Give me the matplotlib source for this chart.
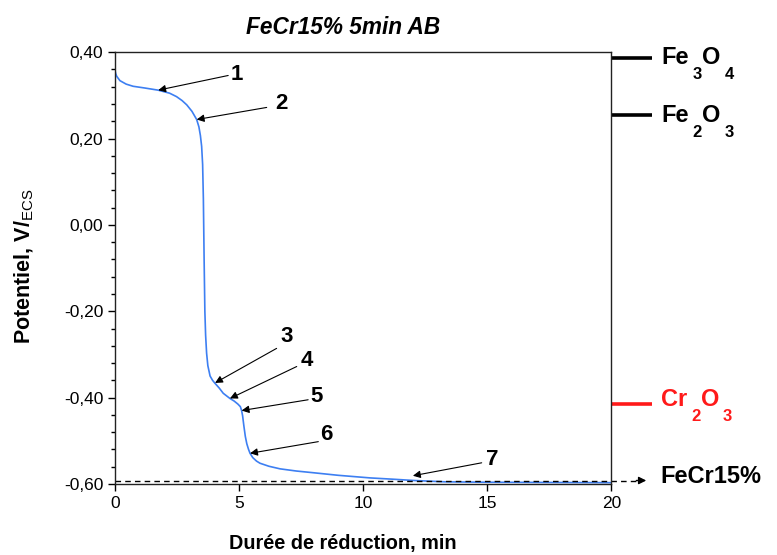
import numpy as np
import matplotlib.pyplot as plt
from matplotlib.ticker import MultipleLocator, FuncFormatter

plt.rcParams["font.family"] = ["Liberation Sans", "DejaVu Sans"]
plt.rcParams["mathtext.fontset"] = "custom"
plt.rcParams["mathtext.rm"] = "Liberation Sans"
plt.rcParams["mathtext.bf"] = "Liberation Sans:bold"

# reduction curve (time in min, potential in V/ECS)
t = [0.0, 0.03, 0.07, 0.2, 0.45, 0.73, 1.2, 1.74, 2.2, 2.48, 2.7, 2.89,
     3.1, 3.29, 3.38, 3.44, 3.49, 3.53, 3.56, 3.59, 3.62, 3.65, 3.69, 3.74,
     3.83, 3.93, 4.03, 4.2, 4.36, 4.63, 4.80, 4.95, 5.05, 5.10, 5.14, 5.19,
     5.25, 5.31, 5.38, 5.44, 5.55, 5.70, 5.84, 6.2, 6.65, 7.3, 7.99, 9.0,
     10.28, 11.2, 12.05, 13.27, 15.0, 20.0]
E = [0.358, 0.350, 0.344, 0.334, 0.326, 0.321, 0.317, 0.312, 0.305, 0.297,
     0.288, 0.278, 0.263, 0.244, 0.227, 0.207, 0.182, 0.140, 0.060, -0.080,
     -0.200, -0.255, -0.297, -0.326, -0.350, -0.360, -0.367, -0.378, -0.390,
     -0.402, -0.408, -0.415, -0.421, -0.430, -0.442, -0.465, -0.490, -0.507,
     -0.520, -0.529, -0.539, -0.547, -0.552, -0.559, -0.565, -0.570, -0.574,
     -0.580, -0.586, -0.589, -0.592, -0.595, -0.596, -0.597]

# numbered points on the curve and where their labels sit
pt_labels = ["1", "2", "3", "4", "5", "6", "7"]
pt_t = [1.74, 3.29, 4.03, 4.63, 5.10, 5.44, 12.0]
pt_E = [0.312, 0.244, -0.366, -0.402, -0.430, -0.529, -0.581]
tail_t = [4.56, 6.11, 6.51, 7.32, 7.78, 8.19, 14.77]
tail_E = [0.346, 0.272, -0.286, -0.328, -0.405, -0.502, -0.551]
lab_t = [4.92, 6.72, 6.92, 7.72, 8.12, 8.53, 15.19]
lab_E = [0.349, 0.281, -0.258, -0.313, -0.398, -0.486, -0.544]

# reference potentials of the oxides, formula pieces (text, is subscript)
ox_parts = [[("Fe", False), ("3", True), ("O", False), ("4", True)],
            [("Fe", False), ("2", True), ("O", False), ("3", True)],
            [("Cr", False), ("2", True), ("O", False), ("3", True)]]
ox_E = [0.386, 0.254, -0.415]
ox_colors = ["black", "black", "#ff1a1a"]
ox_base_px = [6, 7, 2]
alloy_E = -0.592

fig = plt.figure(figsize=(7.77, 5.55), dpi=100)
ax = fig.add_axes([0.148, 0.128, 0.639, 0.778])

ax.plot(t, E, color="#3d7ff2", lw=1.2)

ax.set_xlim(0, 20)
ax.set_ylim(-0.6, 0.4)
ax.xaxis.set_major_locator(MultipleLocator(5))
ax.yaxis.set_major_locator(MultipleLocator(0.2))
ax.yaxis.set_minor_locator(MultipleLocator(0.04))
ax.yaxis.set_major_formatter(FuncFormatter(lambda v, p: f"{v:.2f}".replace(".", ",").replace("-0,00", "0,00")))
ax.tick_params(axis="both", direction="out", labelsize=12.5, width=1, length=5, top=False, right=False)
ax.tick_params(axis="y", which="minor", length=3, width=1)
for s in ax.spines.values():
    s.set_linewidth(1.0)
    s.set_color("#222222")

for lab, x, y, xt, yt, xl, yl in zip(pt_labels, pt_t, pt_E, tail_t, tail_E, lab_t, lab_E):
    ax.annotate("", xy=(x, y), xytext=(xt, yt),
                arrowprops=dict(arrowstyle="-|>", color="black", lw=0.8,
                                mutation_scale=11, shrinkA=0, shrinkB=0))
    ax.text(xl, yl, lab, fontsize=16, fontweight="bold", ha="center", va="center")

trans = ax.get_yaxis_transform()
renderer = fig.canvas.get_renderer()
PT = 72 / fig.dpi  # points per pixel


def put_formula(parts, x0, y0, color, base_px):
    # formula with low subscripts, built piece by piece
    cur = 0.0
    for s, sub in parts:
        if sub:
            cur += 4
            txt = ax.annotate(s, xy=(x0, y0), xycoords=trans,
                              xytext=(cur * PT, -(base_px + 3) * PT),
                              textcoords="offset points", fontsize=12,
                              fontweight="bold", color=color, ha="left",
                              va="top", annotation_clip=False)
        else:
            txt = ax.annotate(s, xy=(x0, y0), xycoords=trans,
                              xytext=(cur * PT, -base_px * PT),
                              textcoords="offset points", fontsize=17,
                              fontweight="bold", color=color, ha="left",
                              va="baseline", annotation_clip=False)
        cur += txt.get_window_extent(renderer).width


for parts, y, c, bp in zip(ox_parts, ox_E, ox_colors, ox_base_px):
    ax.plot([1.0, 1.082], [y, y], color=c, lw=2.6, transform=trans, clip_on=False,
            solid_capstyle="butt")
    put_formula(parts, 1.1, y, c, bp)

# dashed line of the bare alloy
ax.plot([0, 1.055], [alloy_E, alloy_E], color="black", lw=1, ls=(0, (4, 3)),
        transform=trans, clip_on=False)
ax.annotate("", xy=(1.07, alloy_E), xytext=(1.05, alloy_E), xycoords=trans,
            textcoords=trans,
            arrowprops=dict(arrowstyle="-|>", color="black", lw=1,
                            mutation_scale=11, shrinkA=0, shrinkB=0))
put_formula([("FeCr15%", False)], 1.098, alloy_E, "black", 2)

fig.text(0.441, 0.95, "FeCr15% 5min AB", fontsize=16.3, fontweight="bold",
         style="italic", ha="center", va="center")
fig.text(0.441, 0.011, "Durée de réduction, min", fontsize=14.3, fontweight="bold",
         ha="center", va="baseline")
fig.text(0.032, 0.52, r"Potentiel, V/$_{\rm ECS}$", fontsize=15.5, fontweight="bold",
         rotation=90, ha="center", va="center")

fig.savefig("out.png", dpi=100)
